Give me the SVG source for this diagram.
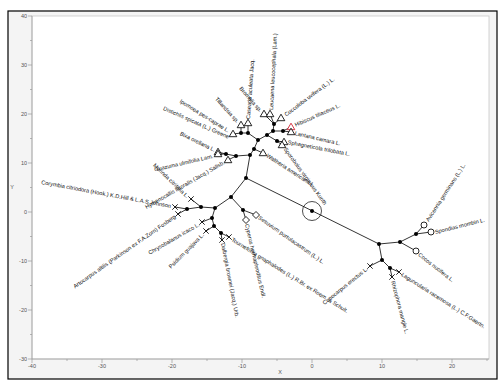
<svg xmlns="http://www.w3.org/2000/svg" xmlns:xlink="http://www.w3.org/1999/xlink" width="502" height="386" viewBox="0 0 502 386">
<style>
.lbl{font-family:"Liberation Sans",Arial,sans-serif;font-size:5.6px;fill:#111;dominant-baseline:central}
.e{text-anchor:end}
.ax{font-family:"Liberation Sans",Arial,sans-serif;font-size:5.5px;fill:#555}
.edge{stroke:#000;stroke-width:0.8;fill:none}
.dot{fill:#000}
.mk{fill:#fff;stroke:#000;stroke-width:0.85}
.red{fill:#fff;stroke:#d02030;stroke-width:0.9}
.tick{stroke:#999;stroke-width:0.7}
</style>
<defs>
<path id="tri" d="M0,-3.8 L3.8,2.7 L-3.8,2.7 Z"/>
<path id="xx" d="M-2.7,-2.7 L2.7,2.7 M-2.7,2.7 L2.7,-2.7"/>
<path id="dia" d="M0,-3.5 L3.5,0 L0,3.5 L-3.5,0 Z"/>
</defs>
<rect x="0" y="0" width="502" height="386" fill="#fff"/>
<rect x="8" y="11" width="489" height="368" fill="#f4f4f4" stroke="#000" stroke-width="1.2"/>
<rect x="32" y="16" width="457" height="343" fill="#fff" stroke="#c8c8c8" stroke-width="0.8"/>
<g id="axes">
<line class="tick" x1="32" y1="16" x2="32" y2="359"/>
<line class="tick" x1="32" y1="359" x2="489" y2="359"/>
<g class="tick">
<line x1="28" y1="16" x2="32" y2="16"/><line x1="30" y1="40.5" x2="32" y2="40.5"/>
<line x1="28" y1="65" x2="32" y2="65"/><line x1="30" y1="89.5" x2="32" y2="89.5"/>
<line x1="28" y1="114" x2="32" y2="114"/><line x1="30" y1="138.5" x2="32" y2="138.5"/>
<line x1="28" y1="163" x2="32" y2="163"/><line x1="30" y1="187.5" x2="32" y2="187.5"/>
<line x1="28" y1="212" x2="32" y2="212"/><line x1="30" y1="236.5" x2="32" y2="236.5"/>
<line x1="28" y1="261" x2="32" y2="261"/><line x1="30" y1="285.5" x2="32" y2="285.5"/>
<line x1="28" y1="310" x2="32" y2="310"/><line x1="30" y1="334.5" x2="32" y2="334.5"/>
<line x1="28" y1="359" x2="32" y2="359"/>
<line x1="32" y1="359" x2="32" y2="363"/><line x1="67" y1="359" x2="67" y2="361"/>
<line x1="102" y1="359" x2="102" y2="363"/><line x1="137" y1="359" x2="137" y2="361"/>
<line x1="172" y1="359" x2="172" y2="363"/><line x1="207" y1="359" x2="207" y2="361"/>
<line x1="242" y1="359" x2="242" y2="363"/><line x1="277" y1="359" x2="277" y2="361"/>
<line x1="312" y1="359" x2="312" y2="363"/><line x1="347" y1="359" x2="347" y2="361"/>
<line x1="382" y1="359" x2="382" y2="363"/><line x1="417" y1="359" x2="417" y2="361"/>
<line x1="452" y1="359" x2="452" y2="363"/><line x1="487" y1="359" x2="487" y2="361"/>
</g>
<g class="ax" text-anchor="end">
<text x="27" y="18">40</text><text x="27" y="67">30</text><text x="27" y="116">20</text>
<text x="27" y="165">10</text><text x="27" y="214">0</text><text x="27" y="263">-10</text>
<text x="27" y="312">-20</text><text x="27" y="361">-30</text>
</g>
<g class="ax" text-anchor="middle">
<text x="32" y="368">-40</text><text x="102" y="368">-30</text><text x="172" y="368">-20</text>
<text x="242" y="368">-10</text><text x="312" y="368">0</text><text x="382" y="368">10</text>
<text x="452" y="368">20</text>
<text x="280" y="374">X</text>
<text x="12" y="189">Y</text>
</g>
</g>
<g id="connectors" class="edge">
<path d="M246,178 L379,244"/>
<path d="M246,178 L250,155 L254,149 L258,140 L267,135 L273,131 L274,124"/>
<path d="M273,131 L283,131 M267,135 L277,141"/>
<path d="M258,140 L248,133 L241,133 L233,134"/>
<path d="M250,155 L236,156 L226,154"/>
<path d="M254,149 L263,153"/>
<path d="M274,124 L264,114 M274,124 L270,114 M274,124 L281,118"/>
<path d="M283,131 L291,127 M283,131 L291,132"/>
<path d="M277,141 L284,142 M277,141 L282,145"/>
<path d="M248,133 L248,123 M241,133 L241,125"/>
<path d="M226,154 L218,152 M226,154 L218,154 M236,156 L228,160"/>
<path d="M246,178 L231,197 L215,208 L201,207 L187,209"/>
<path d="M187,209 L175,207 M187,209 L178,214 M201,207 L191,199"/>
<path d="M215,208 L212,218 L214,226 L221,233"/>
<path d="M212,218 L202,222 M214,226 L206,231 M221,233 L222,240 M221,233 L229,237"/>
<path d="M231,197 L243,210 L246,220 M243,210 L256,215"/>
<path d="M379,244 L400,242 L416,234 M400,242 L416,251 M416,234 L431,232 M416,234 L424,225"/>
<path d="M379,244 L382,260 L390,268 L399,272 M390,268 L392,277 M382,260 L370,266"/>
</g>
<g id="n-root"><circle cx="312" cy="211" r="9.5" fill="none" stroke="#000" stroke-width="0.7"/><circle class="dot" cx="312" cy="211" r="2"/></g>
<g id="inner-nodes" class="dot">
<circle id="nA" cx="246" cy="178" r="2"/><circle id="nB" cx="250" cy="155" r="2"/><circle id="nB2" cx="254" cy="149" r="2"/>
<circle id="nU1" cx="258" cy="140" r="2"/><circle id="nU2" cx="267" cy="135" r="2"/><circle id="nU5" cx="273" cy="131" r="2"/>
<circle id="nU6" cx="274" cy="124" r="2"/><circle id="nU7" cx="283" cy="131" r="2"/><circle id="nU8" cx="277" cy="141" r="2"/>
<circle id="nU3" cx="248" cy="133" r="2"/><circle id="nU4" cx="241" cy="133" r="2"/>
<circle id="nD" cx="236" cy="156" r="2"/><circle id="nE" cx="226" cy="154" r="2"/>
<circle id="nC" cx="231" cy="197" r="2"/><circle id="nK" cx="215" cy="208" r="2"/><circle id="nM" cx="201" cy="207" r="2"/>
<circle id="nN" cx="187" cy="209" r="2"/><circle id="nL" cx="212" cy="218" r="2"/><circle id="nO" cx="214" cy="226" r="2"/>
<circle id="nP" cx="221" cy="233" r="2"/><circle id="nJ" cx="243" cy="210" r="2"/>
<circle id="nF" cx="379" cy="244" r="2"/><circle id="nG" cx="400" cy="242" r="2"/><circle id="nH" cx="416" cy="234" r="2"/>
<circle id="nI" cx="382" cy="260" r="2"/><circle id="nI2" cx="390" cy="268" r="2"/>
</g>
<g id="leaf-bromelia"><use href="#tri" class="mk" x="264" y="114"/><text class="lbl e" transform="translate(261,111) rotate(49)">Bromelia sp.</text></g>
<g id="leaf-leucaena"><use href="#tri" class="mk" x="270" y="114"/><text class="lbl" transform="translate(271,110) rotate(-87)">Leucaena leucocephala (Lam.)</text></g>
<g id="leaf-coccoloba"><use href="#tri" class="mk" x="281" y="118"/><text class="lbl" transform="translate(285,115) rotate(-37)">Coccoloba uvifera (L.) L.</text></g>
<g id="leaf-hibiscus"><use href="#tri" class="red" x="291" y="127"/><text class="lbl" transform="translate(295,125) rotate(-24)">Hibiscus tiliaceus L.</text></g>
<g id="leaf-lantana"><use href="#tri" class="mk" x="291" y="132"/><text class="lbl" transform="translate(295,133) rotate(13)">Lantana camara L.</text></g>
<g id="leaf-sphagneticola"><use href="#tri" class="mk" x="284" y="142"/><text class="lbl" transform="translate(288,142) rotate(11)">Sphagneticola trilobata L.</text></g>
<g id="leaf-sporobolus"><use href="#tri" class="mk" x="282" y="145"/><text class="lbl" transform="translate(285,148) rotate(54)">Sporobolus virginicus Kunth</text></g>
<g id="leaf-waltheria"><use href="#tri" class="mk" x="263" y="153"/><text class="lbl" transform="translate(267,155) rotate(33)">Waltheria americana L.</text></g>
<g id="leaf-casearia"><use href="#tri" class="mk" x="248" y="123"/><text class="lbl" transform="translate(248,119) rotate(-86)">Casearia aculeata Jacq.</text></g>
<g id="leaf-tillandsia"><use href="#tri" class="mk" x="241" y="125"/><text class="lbl e" transform="translate(238,122) rotate(48)">Tillandsia sp.</text></g>
<g id="leaf-ipomoea"><use href="#tri" class="mk" x="233" y="134"/><text class="lbl e" transform="translate(229,131) rotate(32)">Ipomoea pes-caprae L.</text></g>
<g id="leaf-distichlis"><text class="lbl e" transform="translate(229,137) rotate(24)">Distichlis spicata (L.) Greene</text></g>
<g id="leaf-bixa"><use href="#tri" class="mk" x="218" y="152"/><text class="lbl e" transform="translate(215,150) rotate(26)">Bixa orellana L.</text></g>
<g id="leaf-guazuma"><use href="#tri" class="mk" x="218" y="154"/><text class="lbl e" transform="translate(213,156) rotate(-13)">Guazuma ulmifolia Lam.</text></g>
<g id="leaf-hymenocallis"><use href="#tri" class="mk" x="228" y="160"/><text class="lbl e" transform="translate(224,162) rotate(-30)">Hymenocallis littoralis (Jacq.) Salisb.</text></g>
<g id="leaf-corymbia"><use href="#xx" class="mk" x="175" y="207"/><text class="lbl e" transform="translate(171,206) rotate(10.5)">Corymbia citriodora (Hook.) K.D.Hill &amp; L.A.S.Johnson</text></g>
<g id="leaf-artocarpus"><use href="#xx" class="mk" x="178" y="214"/><text class="lbl e" transform="translate(175,216) rotate(-35)">Artocarpus altilis (Parkinson ex F.A.Zorn) Fosberg</text></g>
<g id="leaf-morinda"><use href="#xx" class="mk" x="191" y="199"/><text class="lbl e" transform="translate(188,197) rotate(44)">Morinda citrifolia L.</text></g>
<g id="leaf-chrysobalanus"><use href="#xx" class="mk" x="202" y="222"/><text class="lbl e" transform="translate(199,224) rotate(-30)">Chrysobalanus icaco L.</text></g>
<g id="leaf-psidium"><use href="#xx" class="mk" x="206" y="231"/><text class="lbl e" transform="translate(203,234) rotate(-45)">Psidium guajava L.</text></g>
<g id="leaf-dalbergia"><use href="#xx" class="mk" x="222" y="240"/><text class="lbl" transform="translate(223,243) rotate(79)">Dalbergia brownei (Jacq.) Urb.</text></g>
<g id="leaf-tournefortia"><use href="#xx" class="mk" x="229" y="237"/><text class="lbl" transform="translate(232,239) rotate(32)">Tournefortia gnaphalodes (L.) R.Br. ex Roem. &amp; Schult.</text></g>
<g id="leaf-cyperus"><use href="#dia" class="mk" x="246" y="220"/><text class="lbl" transform="translate(247,224) rotate(77)">Cyperus hermaphroditus Endl.</text></g>
<g id="leaf-sesuvium"><use href="#dia" class="mk" x="256" y="215"/><text class="lbl" transform="translate(259,217) rotate(35)">Sesuvium portulacastrum (L.) L.</text></g>
<g id="leaf-conocarpus"><use href="#xx" class="mk" x="370" y="266"/><text class="lbl e" transform="translate(367,268) rotate(-39)">Conocarpus erectus L.</text></g>
<g id="leaf-laguncularia"><use href="#xx" class="mk" x="399" y="272"/><text class="lbl" transform="translate(402,274) rotate(32.5)">Laguncularia racemosa (L.) C.F.Gaertn.</text></g>
<g id="leaf-rhizophora"><use href="#xx" class="mk" x="392" y="277"/><text class="lbl" transform="translate(393,281) rotate(75)">Rhizophora mangle L.</text></g>
<g id="leaf-cocos"><circle class="mk" cx="416" cy="251" r="3"/><text class="lbl" transform="translate(419,254) rotate(38)">Cocos nucifera L.</text></g>
<g id="leaf-spondias"><circle class="mk" cx="431" cy="232" r="3"/><text class="lbl" transform="translate(435,232) rotate(-14)">Spondias mombin L.</text></g>
<g id="leaf-avicennia"><circle class="mk" cx="424" cy="225" r="3"/><text class="lbl" transform="translate(427,221) rotate(-57)">Avicennia germinans (L.) L.</text></g>
</svg>
